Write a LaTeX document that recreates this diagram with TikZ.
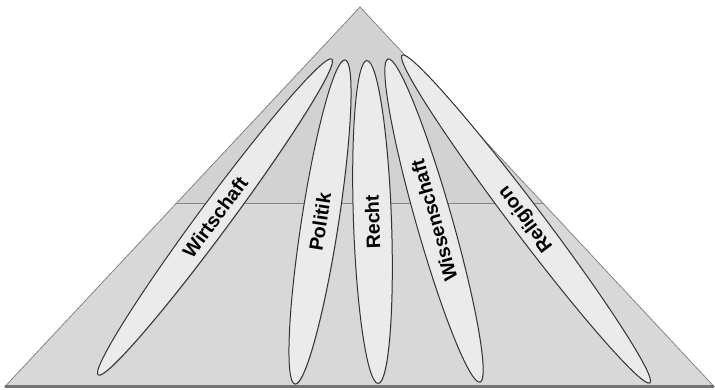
\documentclass[tikz,border=0pt]{standalone}
\usepackage{fontspec}
\setmainfont{Liberation Sans}
\usetikzlibrary{calc,shapes.geometric,shadows}

\definecolor{topgray}{HTML}{D2D2D2}
\definecolor{basegray}{HTML}{D8D8D8}
\definecolor{edgegray}{HTML}{858585}
\definecolor{petalfill}{HTML}{EBEBEB}

\begin{document}
\begin{tikzpicture}[x=1pt, y=-1pt,
  every node/.style={font=\bfseries\fontsize{19.5}{21}\selectfont},
  petal/.style={ellipse, draw=black!80, fill=petalfill, line width=1pt,
    inner sep=0pt, drop shadow={opacity=0.25, shadow xshift=0.8pt, shadow yshift=-0.8pt}}]

% Rahmen
\useasboundingbox (0,0) rectangle (715,389);

% =============================================
% PYRAMIDE
% =============================================
\coordinate (apex)  at (360,7);
\coordinate (baseL) at (5,386.5);
\coordinate (baseR) at (714,386.5);
\coordinate (midL)  at ($(baseL)!0.4822!(apex)$);
\coordinate (midR)  at ($(baseR)!0.4822!(apex)$);

% unterer Teil
\draw[edgegray, fill=basegray, line width=0.8pt] (baseL) -- (midL) -- (midR) -- (baseR) -- cycle;
% Spitze
\draw[edgegray, fill=topgray, line width=0.8pt] (midL) -- (apex) -- (midR) -- cycle;
% Grundlinie
\draw[black!55, line width=2.5pt] (baseL) -- (baseR);

% =============================================
% TEILSYSTEME
% =============================================
\node[petal, minimum width=393pt, minimum height=31pt, rotate=53.5] (wirtschaft) at (215,217) {Wirtschaft};
\node[petal, minimum width=328pt, minimum height=37pt, rotate=81.2] (politik) at (320,222) {Politik};
\node[petal, minimum width=323pt, minimum height=38pt, rotate=92] (recht) at (372.5,222) {Recht};
\node[petal, minimum width=336pt, minimum height=36pt, rotate=105.9] (wissenschaft) at (434,220.5) {Wissenschaft};
\node[petal, minimum width=411pt, minimum height=31pt, rotate=127.1] (religion) at (526,219) {Religion};

\end{tikzpicture}
\end{document}
